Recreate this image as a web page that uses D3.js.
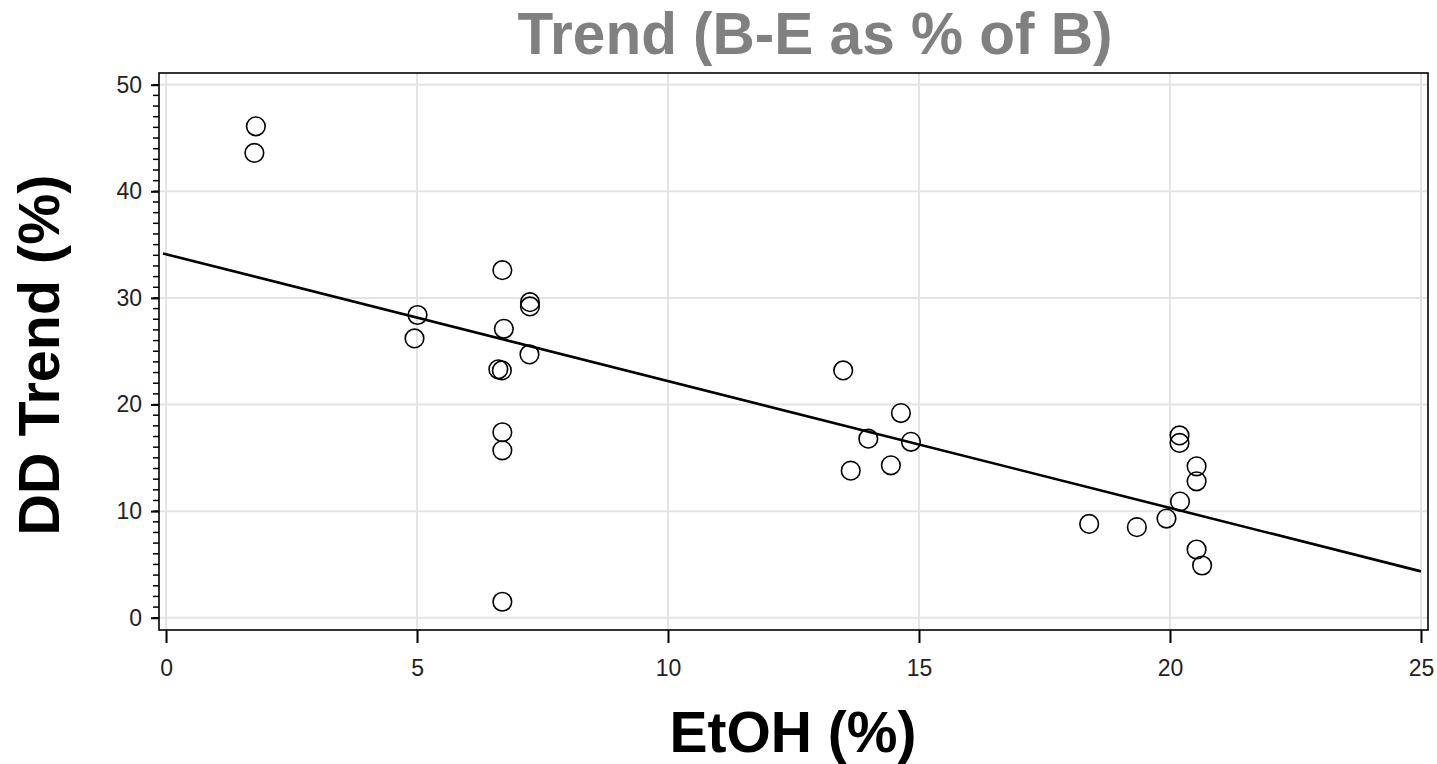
<!DOCTYPE html>
<html>
<head>
<meta charset="utf-8">
<script src="https://cdn.jsdelivr.net/npm/d3@7"></script>
<style>
  body { margin: 0; background: #fff; }
  svg { display: block; font-family: "Liberation Sans", Arial, sans-serif; }
</style>
</head>
<body>
<svg id="chart" width="1437" height="764"></svg>
<script>
// EtOH (%) and DD trend (%) for each sample
var etoh  = [1.79, 1.76, 5.01, 4.95, 6.70, 7.25, 7.25, 6.73, 7.24, 6.62, 6.69, 6.70, 6.70, 6.70,
             13.49, 14.64, 13.99, 14.84, 13.64, 14.44,
             18.39, 19.34, 19.93, 20.19, 20.19, 20.53, 20.53, 20.20, 20.53, 20.64];
var trend = [46.1, 43.6, 28.4, 26.2, 32.6, 29.6, 29.2, 27.1, 24.7, 23.3, 23.2, 17.4, 15.7, 1.5,
             23.2, 19.2, 16.8, 16.5, 13.8, 14.3,
             8.8, 8.5, 9.3, 17.1, 16.4, 14.2, 12.8, 10.9, 6.4, 4.9];

// fitted line as shown
var fitIntercept = 34.1;
var fitSlope = -1.19;
var fitRange = [-0.06, 25];

var xTicks = [0, 5, 10, 15, 20, 25];
var yTicks = [0, 10, 20, 30, 40, 50];
var yMinorTicks = d3.range(0, 51, 1);

var svg = d3.select("#chart");

var x = d3.scaleLinear().domain([-0.14, 25.14]).range([159, 1428]);
var y = d3.scaleLinear().domain([-1.15, 51.1]).range([630, 73]);

//grid lines
svg.append("g").selectAll("line").data(xTicks).enter().append("line")
	.attr("x1", d => x(d)).attr("x2", d => x(d))
	.attr("y1", y.range()[1]).attr("y2", y.range()[0])
	.attr("stroke", "#e4e4e4").attr("stroke-width", 2);
svg.append("g").selectAll("line").data(yTicks).enter().append("line")
	.attr("x1", x.range()[0]).attr("x2", x.range()[1])
	.attr("y1", d => y(d)).attr("y2", d => y(d))
	.attr("stroke", "#e4e4e4").attr("stroke-width", 2);

//axes
var xAxis = svg.append("g")
	.attr("transform", "translate(0,630)")
	.call(d3.axisBottom(x).tickValues(xTicks).tickSize(13).tickPadding(17).tickFormat(d3.format("d")));
var yAxis = svg.append("g")
	.attr("transform", "translate(159,0)")
	.call(d3.axisLeft(y).tickValues(yTicks).tickSize(8).tickPadding(9).tickFormat(d3.format("d")));
// minor ticks on y
svg.append("g").selectAll("line").data(yMinorTicks).enter().append("line")
	.attr("x1", 153).attr("x2", 159)
	.attr("y1", d => y(d)).attr("y2", d => y(d))
	.attr("stroke", "#000").attr("stroke-width", 1.5);

[xAxis, yAxis].forEach(function(a) {
	a.select(".domain").remove();
	a.selectAll(".tick line").attr("stroke", "#000").attr("stroke-width", 2);
	a.selectAll(".tick text").attr("fill", "#222").style("font-size", "23px");
});

//frame
svg.append("rect")
	.attr("x", x.range()[0]).attr("y", y.range()[1])
	.attr("width", x.range()[1] - x.range()[0])
	.attr("height", y.range()[0] - y.range()[1])
	.attr("fill", "none").attr("stroke", "#000").attr("stroke-width", 1.6);

//regression line
var line = d3.line().x(d => x(d)).y(d => y(fitIntercept + fitSlope * d));
svg.append("path")
	.attr("d", line(fitRange))
	.attr("stroke", "#000").attr("stroke-width", 2.6).attr("fill", "none");

//points
svg.append("g").selectAll("circle").data(etoh).enter().append("circle")
	.attr("cx", d => x(d))
	.attr("cy", (d, i) => y(trend[i]))
	.attr("r", 9.3)
	.attr("fill", "none").attr("stroke", "#000").attr("stroke-width", 1.6);

//titles
svg.append("text")
	.attr("x", 815).attr("y", 54)
	.attr("text-anchor", "middle")
	.style("font-size", "58.5px").style("font-weight", "bold").attr("fill", "#808080")
	.text("Trend (B-E as % of B)");
svg.append("text")
	.attr("x", 793).attr("y", 752)
	.attr("text-anchor", "middle")
	.style("font-size", "57px").style("font-weight", "bold").attr("fill", "#000")
	.text("EtOH (%)");
svg.append("text")
	.attr("transform", "translate(59,355) rotate(-90)")
	.attr("text-anchor", "middle")
	.style("font-size", "57.5px").style("font-weight", "bold").attr("fill", "#000")
	.text("DD Trend (%)");
</script>
</body>
</html>
